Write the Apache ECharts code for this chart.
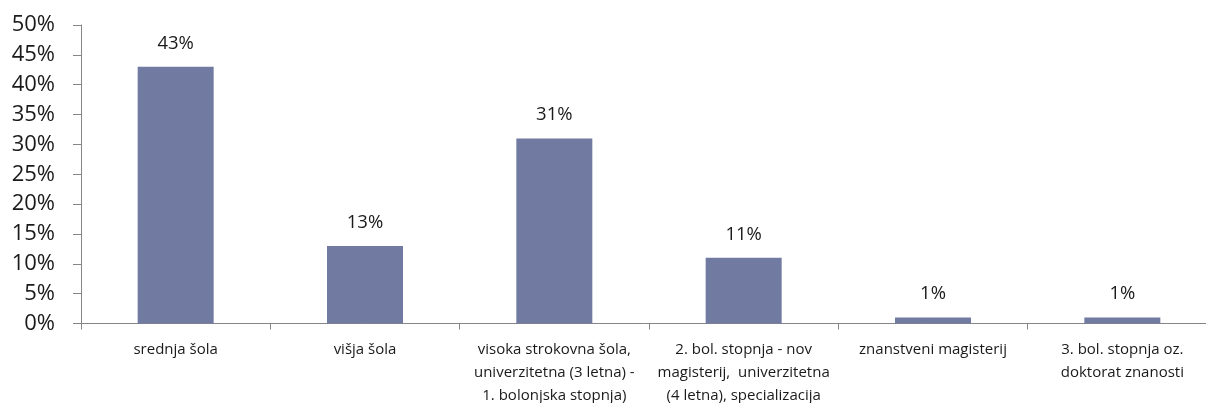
<!DOCTYPE html>
<html>
<head>
<meta charset="utf-8">
<script src="https://cdn.jsdelivr.net/npm/echarts@6/dist/echarts.min.js"></script>
<style>
  html, body { margin: 0; padding: 0; background: #fff; }
  #chart { width: 1206px; height: 403px; }
</style>
</head>
<body>
<div id="chart"></div>
<script>
// Education levels (labels wrapped by hand, as shown under the axis)
const categories = [
  'srednja šola',
  'višja šola',
  'visoka strokovna šola,\nuniverzitetna (3 letna) -\n1. bolonjska stopnja)',
  '2. bol. stopnja - nov\nmagisterij,  univerzitetna\n(4 letna), specializacija',
  'znanstveni magisterij',
  '3. bol. stopnja oz.\ndoktorat znanosti'
];
// Share of respondents, in percent
const shares = [43, 13, 31, 11, 1, 1];
// Value axis range and step, in percent
const yMin = 0;
const yMax = 50;
const yStep = 5;

const font = '"Open Sans", "Noto Sans", sans-serif';
const axisGrey = '#868686';

const chart = echarts.init(document.getElementById('chart'), null, { renderer: 'canvas' });
chart.setOption({
  animation: false,
  backgroundColor: '#ffffff',
  grid: {
    left: 81, right: -11, top: 25, bottom: 79.5,
    containLabel: false,
    outerBoundsMode: 'none'
  },
  xAxis: {
    type: 'category',
    data: categories,
    axisLine: { show: true, lineStyle: { color: axisGrey, width: 1 } },
    axisTick: { show: true, length: 6, alignWithLabel: false, lineStyle: { color: axisGrey } },
    axisLabel: {
      interval: 0,
      margin: 15,
      color: '#1a1a1a',
      fontFamily: font,
      fontSize: 15,
      lineHeight: 23,
      align: 'center',
      verticalAlign: 'top'
    },
    splitLine: { show: false }
  },
  yAxis: {
    type: 'value',
    min: yMin,
    max: yMax,
    interval: yStep,
    axisLine: { show: true, lineStyle: { color: axisGrey, width: 1 } },
    axisTick: { show: true, length: 8, inside: false, lineStyle: { color: axisGrey } },
    axisLabel: {
      margin: 26,
      color: '#1a1a1a',
      fontFamily: font,
      fontSize: 22,
      formatter: v => v + '%'
    },
    splitLine: { show: false }
  },
  series: [{
    type: 'bar',
    data: shares,
    barWidth: 76,
    itemStyle: { color: '#717ba2' },
    label: {
      show: true,
      position: 'top',
      distance: 14,
      color: '#1a1a1a',
      fontFamily: font,
      fontSize: 18.5,
      formatter: p => p.value + '%'
    }
  }]
});
</script>
</body>
</html>
